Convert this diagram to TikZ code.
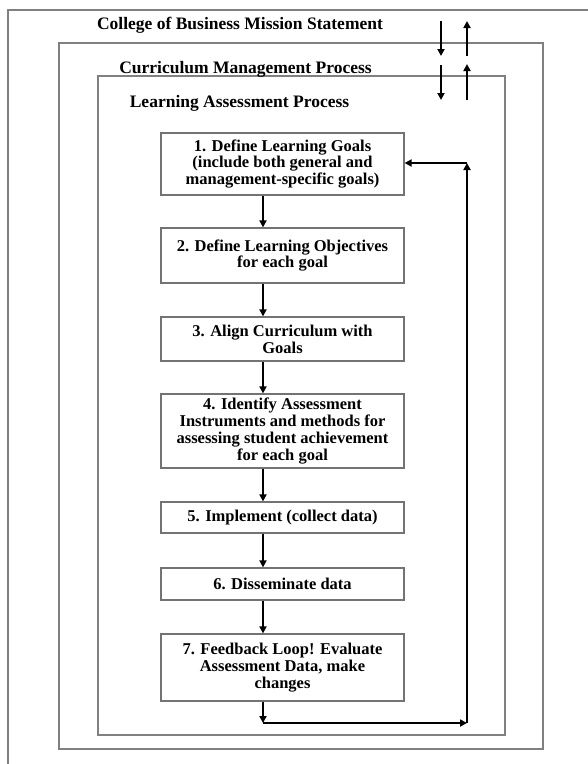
\documentclass[tikz,border=0pt]{standalone}
\usepackage{fontspec}
\setmainfont{Liberation Serif}
\usetikzlibrary{arrows.meta}
\begin{document}
\begin{tikzpicture}[x=1pt,y=-1pt,
  frame/.style={draw=black!50, line width=1.6pt},
  stepbox/.style={draw=black!55, line width=1.2pt, minimum width=243pt, inner sep=2pt,
    align=center, font=\fontsize{16.5}{16.8}\selectfont\bfseries},
  title/.style={font=\fontsize{17.5}{18}\selectfont\bfseries, inner sep=0pt},
  arr/.style={draw=black, line width=1.8pt, -{Triangle[length=7pt,width=7pt]}}]
\useasboundingbox (0,0) rectangle (588,764);
% frames
\draw[frame] (8,770) -- (8,10) -- (595,10);
\draw[frame] (59,43) rectangle (543,749);
\draw[frame] (98,76) rectangle (505,735);
% titles
\node[title] (t1) at (240,25) {College of Business Mission Statement};
\node[title] (t2) at (245.5,69) {Curriculum Management Process};
\node[title] (t3) at (239.5,103) {Learning Assessment Process};
% top arrows
\coordinate (d1s) at (441,21); \coordinate (d1e) at (441,56);
\coordinate (u1s) at (467,56); \coordinate (u1e) at (467,21);
\coordinate (d2s) at (441,65); \coordinate (d2e) at (441,100);
\coordinate (u2s) at (467,100); \coordinate (u2e) at (467,64);
\draw[arr] (d1s) -- (d1e);
\draw[arr] (u1s) -- (u1e);
\draw[arr] (d2s) -- (d2e);
\draw[arr] (u2s) -- (u2e);
% boxes
\node[stepbox, minimum height=62pt] (b1) at (282.5,164) {1. Define Learning Goals\\(include both general and\\management-specific goals)};
\node[stepbox, minimum height=55pt] (b2) at (282.5,255.5) {2. Define Learning Objectives\\for each goal};
\node[stepbox, minimum height=44pt] (b3) at (282.5,339) {3. Align Curriculum with\\Goals};
\node[stepbox, minimum height=74pt] (b4) at (282.5,431) {4. Identify Assessment\\Instruments and methods for\\assessing student achievement\\for each goal};
\node[stepbox, minimum height=31pt] (b5) at (282.5,517.5) {5. Implement (collect data)};
\node[stepbox, minimum height=32pt] (b6) at (282.5,584) {6. Disseminate data};
\node[stepbox, minimum height=67pt] (b7) at (282.5,667.5) {7. Feedback Loop! Evaluate\\Assessment Data, make\\changes};
% connector column
\coordinate (ax) at (263,0);
\coordinate (c1) at (263,723);
\coordinate (c2) at (467,723);
\coordinate (c3) at (467,163);
\draw[arr] (b1.south -| ax) -- (b2.north -| ax);
\draw[arr] (b2.south -| ax) -- (b3.north -| ax);
\draw[arr] (b3.south -| ax) -- (b4.north -| ax);
\draw[arr] (b4.south -| ax) -- (b5.north -| ax);
\draw[arr] (b5.south -| ax) -- (b6.north -| ax);
\draw[arr] (b6.south -| ax) -- (b7.north -| ax);
\draw[arr] (b7.south -| ax) -- (c1);
\draw[arr] (c1) -- (c2);
\draw[arr] (c2) -- (c3);
\draw[arr] (c3) -- (b1.east |- c3);
\end{tikzpicture}
\end{document}
